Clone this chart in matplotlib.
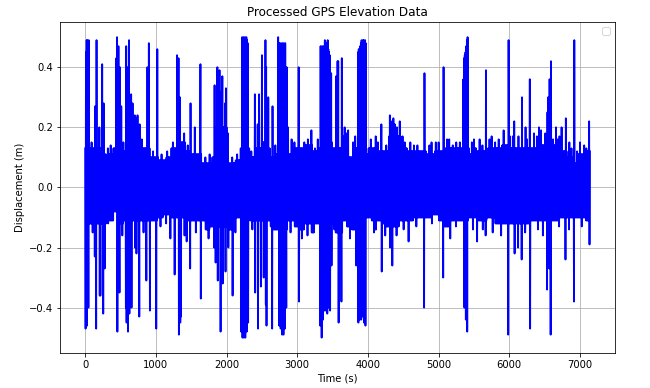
import numpy as np
import matplotlib
matplotlib.use("Agg")
import matplotlib.pyplot as plt

# background band of the record: (time s, displacement m), each value holds until the next time
base_hi_t = [0, 270, 300, 330, 400, 520, 800, 915, 1040, 1150, 1220, 1360, 1420, 1500, 1645,
             1800, 1830, 2005, 2030, 2130, 2200, 2330, 2400, 2500, 2600, 2700, 2860, 2940,
             3100, 3220, 3300, 3480, 3500, 3640, 3730, 3800, 3980, 4010, 4120, 4300, 4470,
             4560, 4830, 4950, 5100, 5440, 5500, 5540, 5700, 5900, 6000, 6310, 6400, 6600,
             6720, 6815, 6930, 6960, 7090]
base_hi_v = [0.13, 0.11, 0.09, 0.11, 0.13, 0.12, 0.13, 0.10, 0.09, 0.10, 0.13, 0.15, 0.12,
             0.11, 0.08, 0.10, 0.20, 0.14, 0.08, 0.09, 0.13, 0.10, 0.13, 0.15, 0.10, 0.11,
             0.11, 0.13, 0.14, 0.12, 0.13, 0.15, 0.13, 0.17, 0.10, 0.13, 0.11, 0.13, 0.12,
             0.17, 0.13, 0.12, 0.11, 0.12, 0.13, 0.11, 0.13, 0.12, 0.13, 0.14, 0.13, 0.13,
             0.14, 0.14, 0.12, 0.10, 0.08, 0.11, 0.12]
base_lo_t = [0, 300, 340, 400, 500, 545, 780, 925, 1020, 1100, 1220, 1445, 1645, 1700, 1760,
             2030, 2095, 2330, 2600, 2665, 2860, 2960, 3035, 3100, 3200, 3240, 3500, 3545,
             3640, 3700, 3770, 3970, 4050, 4105, 4120, 4205, 4250, 4445, 4580, 4640, 4900,
             5000, 5080, 5175, 5425, 5560, 5680, 5800, 6305, 6485, 6600, 6700, 6930, 7080]
base_lo_v = [-0.12, -0.08, -0.11, -0.08, -0.12, -0.11, -0.11, -0.11, -0.10, -0.09, -0.10,
             -0.11, -0.11, -0.14, -0.13, -0.14, -0.10, -0.11, -0.11, -0.14, -0.11, -0.13,
             -0.14, -0.12, -0.15, -0.12, -0.11, -0.15, -0.11, -0.13, -0.14, -0.10, -0.11,
             -0.14, -0.11, -0.12, -0.13, -0.11, -0.11, -0.10, -0.09, -0.11, -0.13, -0.11,
             -0.10, -0.11, -0.10, -0.12, -0.11, -0.11, -0.11, -0.10, -0.10, -0.11]

# single excursions above the band
spk_hi_t = [140, 165, 200, 240, 258, 440, 452, 470, 488, 512, 580, 600, 620, 650, 670, 700,
            720, 740, 770, 876, 904, 1022, 1300, 1320, 1345, 1400, 1490, 1550, 1630, 1834,
            1867, 1890, 1905, 1929, 1943, 1976, 1990, 2023, 2400, 2438, 2462, 2495, 2551,
            2565, 2589, 2650, 2849, 2872, 3023, 3100, 3150, 3198, 3485, 3547, 3570, 3580,
            3627, 3674, 3721, 3816, 4108, 4140, 4193, 4255, 4311, 4335, 4358, 4385, 4410,
            4453, 4600, 4700, 4797, 4900, 5000, 5066, 5150, 5250, 5470, 5580, 5666, 5750,
            5850, 5916, 5987, 6050, 6072, 6128, 6176, 6232, 6294, 6350, 6420, 6450, 6510,
            6540, 6553, 6570, 6586, 6662, 6680, 6709, 6740, 6799, 6850, 6917, 7000, 7060, 7134]
spk_hi_v = [0.27, 0.49, 0.20, 0.41, 0.28, 0.43, 0.50, 0.47, 0.40, 0.27, 0.47, 0.40, 0.49,
            0.31, 0.28, 0.24, 0.23, 0.24, 0.21, 0.40, 0.48, 0.46, 0.44, 0.43, 0.30, 0.18,
            0.28, 0.20, 0.41, 0.34, 0.40, 0.25, 0.39, 0.32, 0.37, 0.28, 0.33, 0.18, 0.31,
            0.21, 0.31, 0.44, 0.49, 0.40, 0.30, 0.27, 0.40, 0.20, 0.40, 0.15, 0.16, 0.19,
            0.38, 0.37, 0.42, 0.42, 0.43, 0.20, 0.19, 0.17, 0.17, 0.15, 0.21, 0.14, 0.24,
            0.22, 0.23, 0.21, 0.20, 0.22, 0.15, 0.14, 0.38, 0.15, 0.15, 0.40, 0.16, 0.15,
            0.15, 0.16, 0.39, 0.17, 0.16, 0.19, 0.49, 0.17, 0.22, 0.17, 0.30, 0.20, 0.36,
            0.18, 0.20, 0.19, 0.18, 0.25, 0.30, 0.36, 0.42, 0.20, 0.16, 0.17, 0.20, 0.23,
            0.15, 0.49, 0.15, 0.14, 0.22]

# small ripples just above the band
rip_hi_t = [90, 320, 360, 540, 800, 960, 1080, 1160, 1240, 1450, 1700, 1760, 2080, 2150,
            2350, 2610, 2690, 2920, 2960, 3250, 3290, 3700, 3790, 4040, 4490, 4520, 4650,
            4870, 4960, 5120, 5200, 5300, 5500, 5620, 5720, 5800, 6010, 6250, 6390, 6620,
            6880, 6960, 7090]
rip_hi_v = [0.15, 0.13, 0.14, 0.15, 0.16, 0.12, 0.11, 0.12, 0.15, 0.14, 0.10, 0.11, 0.10,
            0.11, 0.12, 0.13, 0.14, 0.16, 0.15, 0.13, 0.16, 0.18, 0.15, 0.16, 0.17, 0.15,
            0.14, 0.14, 0.15, 0.16, 0.14, 0.15, 0.16, 0.14, 0.16, 0.15, 0.17, 0.16, 0.17,
            0.16, 0.13, 0.12, 0.13]

# stretches where the record stays near the top limit
blk_hi_t = [10, 20, 30, 40, 50,
            2220, 2230, 2240, 2250, 2260, 2270, 2280, 2290, 2300,
            2730, 2740, 2750, 2760, 2770, 2780, 2790, 2800, 2810, 2820, 2830,
            3330, 3340, 3350, 3360, 3370, 3380, 3390, 3400, 3410, 3420, 3430, 3440, 3450, 3460,
            3860, 3870, 3880, 3890, 3900, 3910, 3920, 3930, 3940, 3950, 3960, 3970,
            5350, 5360, 5370, 5380, 5390, 5400, 5410]
blk_hi_v = [0.45, 0.49, 0.49, 0.47, 0.49,
            0.50, 0.49, 0.50, 0.49, 0.50, 0.49, 0.50, 0.49, 0.48,
            0.50, 0.48, 0.48, 0.47, 0.48, 0.47, 0.48, 0.46, 0.48, 0.47, 0.48,
            0.47, 0.45, 0.47, 0.46, 0.47, 0.44, 0.49, 0.47, 0.48, 0.47, 0.49, 0.46, 0.45, 0.44,
            0.45, 0.46, 0.46, 0.47, 0.48, 0.49, 0.48, 0.49, 0.49, 0.48, 0.49, 0.48,
            0.36, 0.43, 0.44, 0.45, 0.47, 0.49, 0.50]

# single excursions below the band
spk_lo_t = [135, 158, 205, 219, 253, 276, 451, 470, 488, 573, 590, 607, 625, 654, 701, 725,
            762, 866, 913, 1008, 1206, 1267, 1324, 1340, 1352, 1400, 1433, 1489, 1631, 1825,
            1850, 1872, 1914, 1943, 1990, 2023, 2080, 2405, 2447, 2485, 2520, 2551, 2565,
            2650, 2840, 3023, 3485, 3580, 3603, 3627, 3839, 4193, 4311, 4349, 4406, 4571,
            4797, 5066, 5161, 5548, 5666, 5987, 6072, 6128, 6176, 6294, 6473, 6539, 6563,
            6586, 6799, 6917, 7134]
spk_lo_v = [-0.23, -0.47, -0.36, -0.36, -0.42, -0.27, -0.48, -0.30, -0.35, -0.40, -0.45,
            -0.48, -0.42, -0.40, -0.20, -0.22, -0.43, -0.31, -0.41, -0.47, -0.17, -0.29,
            -0.49, -0.45, -0.43, -0.16, -0.18, -0.27, -0.37, -0.20, -0.25, -0.31, -0.48,
            -0.32, -0.28, -0.20, -0.36, -0.35, -0.47, -0.33, -0.30, -0.39, -0.46, -0.47,
            -0.40, -0.38, -0.26, -0.45, -0.18, -0.38, -0.26, -0.28, -0.20, -0.26, -0.16,
            -0.18, -0.40, -0.30, -0.17, -0.18, -0.16, -0.49, -0.22, -0.20, -0.24, -0.47,
            -0.16, -0.34, -0.27, -0.49, -0.24, -0.38, -0.19]

# small ripples just below the band
rip_lo_t = [100, 330, 530, 820, 1060, 1150, 1560, 1740, 2130, 2360, 2620, 2900, 3070, 3150,
            3520, 3750, 4080, 4250, 4500, 4680, 4900, 5250, 5480, 5620, 5760, 5880, 6220,
            6400, 6700, 6850, 7020]
rip_lo_v = [-0.15, -0.12, -0.16, -0.15, -0.13, -0.12, -0.15, -0.17, -0.15, -0.14, -0.13,
            -0.15, -0.17, -0.16, -0.14, -0.17, -0.15, -0.16, -0.14, -0.13, -0.12, -0.13,
            -0.14, -0.14, -0.15, -0.16, -0.15, -0.14, -0.13, -0.14, -0.13]

# stretches where the record stays near the bottom limit
blk_lo_t = [0, 10, 20, 30, 40, 50,
            2210, 2220, 2230, 2240, 2250, 2260, 2270, 2280, 2290, 2300,
            2740, 2750, 2760, 2770, 2780, 2790, 2800, 2810, 2820, 2830,
            3320, 3330, 3340, 3350, 3360, 3370, 3380, 3390, 3400, 3410, 3420, 3430, 3440,
            3450, 3460,
            3860, 3870, 3880, 3890, 3900, 3910, 3920, 3930, 3940, 3950, 3960,
            5360, 5370, 5380, 5390, 5400, 5410]
blk_lo_v = [-0.47, -0.47, -0.46, -0.46, -0.45, -0.40,
            -0.48, -0.49, -0.50, -0.49, -0.50, -0.48, -0.50, -0.49, -0.48, -0.45,
            -0.44, -0.46, -0.45, -0.47, -0.46, -0.49, -0.48, -0.49, -0.49, -0.47,
            -0.30, -0.46, -0.47, -0.50, -0.45, -0.44, -0.42, -0.41, -0.42, -0.41, -0.40,
            -0.42, -0.41, -0.40, -0.41,
            -0.46, -0.45, -0.45, -0.44, -0.43, -0.44, -0.42, -0.43, -0.44, -0.45, -0.46,
            -0.36, -0.40, -0.42, -0.44, -0.46, -0.48]

t_end = 7140
step = 5  # seconds between plotted samples

t = np.arange(0, t_end + 1, step)
n = len(t)
up = np.asarray(base_hi_v)[np.searchsorted(base_hi_t, t, side='right') - 1]
dn = np.asarray(base_lo_v)[np.searchsorted(base_lo_t, t, side='right') - 1]
# even samples sit on the top of the band, odd ones on the bottom
disp = np.where(np.arange(n) % 2 == 0, up, dn)

for ts, v in zip(rip_hi_t + spk_hi_t + blk_hi_t, rip_hi_v + spk_hi_v + blk_hi_v):
    k = min(int(round(ts / (2 * step))) * 2, n - 1)
    disp[k] = v
for ts, v in zip(rip_lo_t + spk_lo_t + blk_lo_t, rip_lo_v + spk_lo_v + blk_lo_v):
    k = min(max(int(round((ts - step) / (2 * step))), 0) * 2 + 1, n - 1)
    disp[k] = v

fig = plt.figure(figsize=(650 / 72, 388 / 72), dpi=72)
ax = fig.add_axes([0.0923, 0.091, 0.854, 0.852])
ax.plot(t, disp, color='b', linewidth=1.8)
ax.set_title('Processed GPS Elevation Data')
ax.set_xlabel('Time (s)')
ax.set_ylabel('Displacement (m)')
ax.grid(True)
ax.legend()  # nothing is labelled, which leaves the empty box seen in the original

fig.savefig('out.png', dpi=72)
